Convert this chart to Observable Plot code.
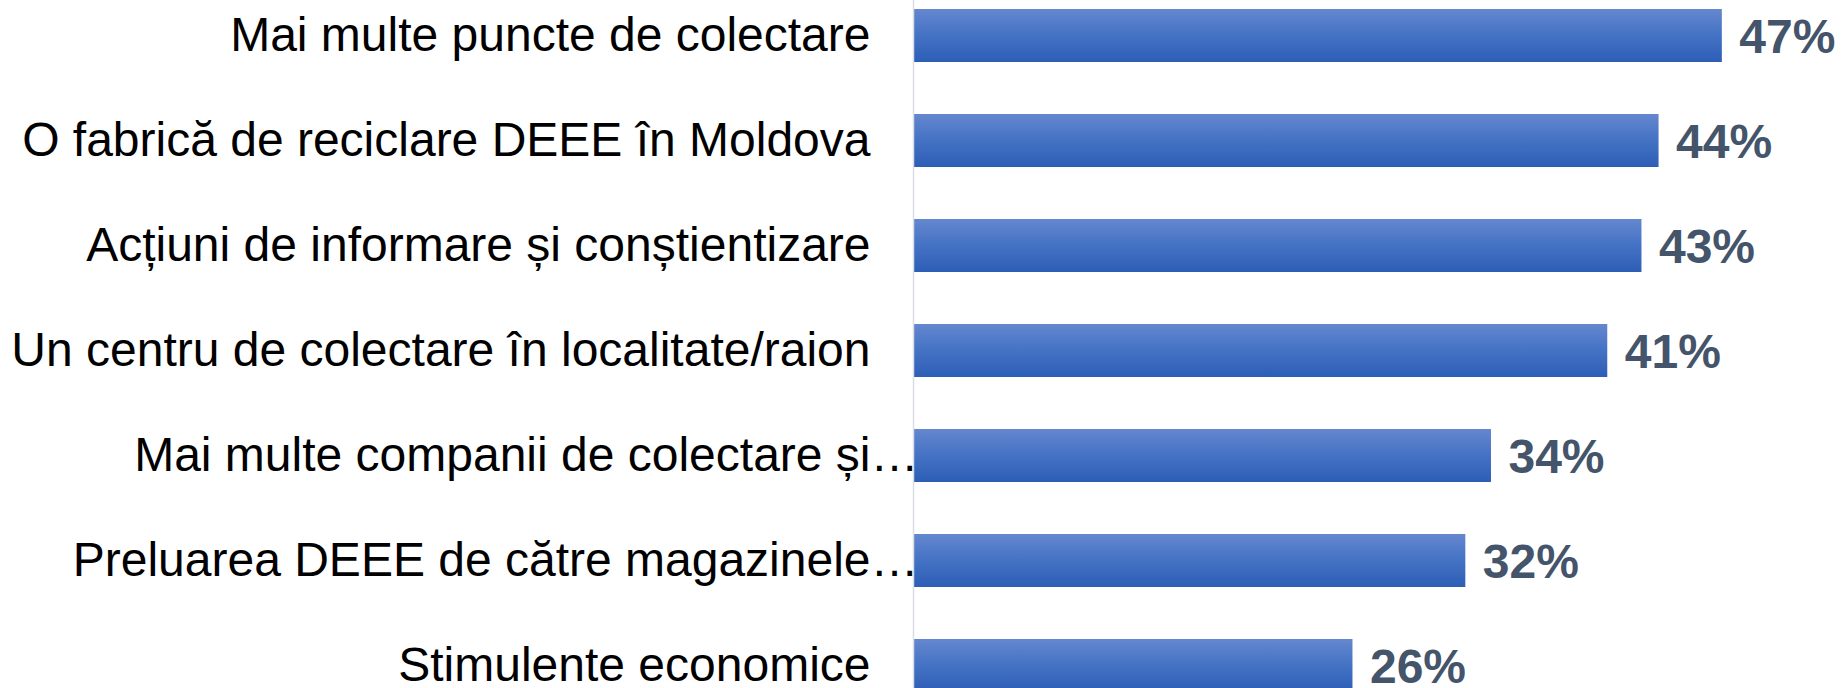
<!DOCTYPE html>
<html><head><meta charset="utf-8">
<script src="https://cdn.jsdelivr.net/npm/d3@7"></script>
<script src="https://cdn.jsdelivr.net/npm/@observablehq/plot@0.6"></script>
<style>html,body{margin:0;padding:0;background:#fff;overflow:hidden}</style>
</head><body><div id="chart"></div>
<script>
const categories = [
  "Mai multe puncte de colectare",
  "O fabrică de reciclare DEEE în Moldova",
  "Acțiuni de informare și conștientizare",
  "Un centru de colectare în localitate/raion",
  "Mai multe companii de colectare și…",
  "Preluarea DEEE de către magazinele…",
  "Stimulente economice"
];
const values = [47.3, 43.6, 42.6, 40.6, 33.8, 32.3, 25.7];
const valueLabels = ["47%", "44%", "43%", "41%", "34%", "32%", "26%"];

const data = categories.map((c, i) => ({category: c, value: values[i], label: valueLabels[i]}));

const gradient = () => {
  const defs = d3.create("svg:defs");
  const g = defs.append("linearGradient").attr("id", "barGrad")
    .attr("x1", 0).attr("y1", 0).attr("x2", 0).attr("y2", 1);
  g.append("stop").attr("offset", "0%").attr("stop-color", "#6587cf");
  g.append("stop").attr("offset", "50%").attr("stop-color", "#4472c4");
  g.append("stop").attr("offset", "100%").attr("stop-color", "#2d5eb6");
  return defs.node();
};

const chart = Plot.plot({
  width: 1842,
  height: 688,
  marginTop: 0,
  marginBottom: 0,
  marginLeft: 913,
  marginRight: 74,
  style: {fontFamily: "'Liberation Sans', Arial, sans-serif", background: "#fff", overflow: "visible"},
  x: {domain: [0, 50], axis: null},
  y: {domain: categories, range: [-42.975, 744], padding: 0.495, axis: null},
  marks: [
    gradient,
    Plot.barX(data, {x: "value", y: "category", fill: "url(#barGrad)"}),
    Plot.ruleX([0], {stroke: "#d9dde4", strokeWidth: 1.5}),
    Plot.text(data, {x: 0, y: "category", text: d => d.category.replace("…", ""), textAnchor: "end", dx: -43, fontSize: 48, fill: "#000"}),
    Plot.text(data.filter(d => d.category.endsWith("…")), {x: 0, y: "category", text: () => "…", textAnchor: "start", dx: -43, fontSize: 48, fill: "#000"}),
    Plot.text(data, {x: "value", y: "category", text: "label", textAnchor: "start", dx: 17, dy: 2, fontSize: 48, fontWeight: "bold", fill: "#44546a"})
  ]
});
document.getElementById("chart").append(chart);
</script>
</body></html>
